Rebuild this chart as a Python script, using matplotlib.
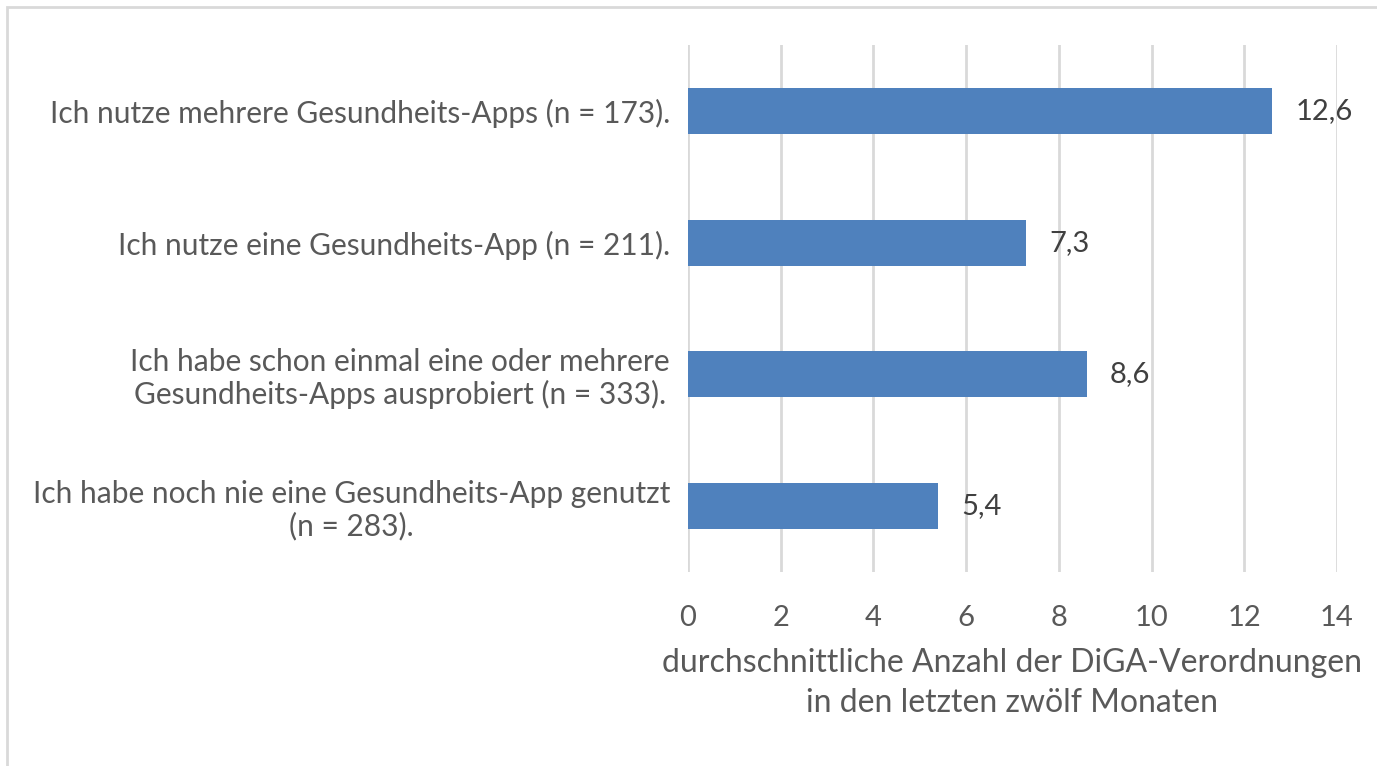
import matplotlib.pyplot as plt
from matplotlib.patches import Rectangle

categories = [
    'Ich nutze mehrere Gesundheits-Apps (n = 173).',
    'Ich nutze eine Gesundheits-App (n = 211).',
    'Ich habe schon einmal eine oder mehrere\nGesundheits-Apps ausprobiert (n = 333).',
    'Ich habe noch nie eine Gesundheits-App genutzt\n(n = 283).',
]
values = [12.6, 7.3, 8.6, 5.4]
value_labels = ['12,6', '7,3', '8,6', '5,4']
x_ticks = [0, 2, 4, 6, 8, 10, 12, 14]

plt.rcParams['font.family'] = ['Lato', 'DejaVu Sans']

fig = plt.figure(figsize=(13.77, 7.66), dpi=100)
ax = fig.add_axes([688 / 1377, 1 - 572 / 766, (1337 - 688) / 1377, (572 - 45) / 766])

y = list(range(len(categories)))
ax.barh(y, values, height=0.35, color='#4F81BD', zorder=3)
ax.set_ylim(len(categories) - 0.5, -0.5)
ax.set_xlim(0, 14)
ax.set_xticks(x_ticks)
ax.set_xticklabels([str(t) for t in x_ticks])
ax.set_yticks(y)
ax.set_yticklabels(categories, ha='right', multialignment='center', linespacing=1.15)
ax.tick_params(axis='y', length=0, labelsize=21.5, colors='#595959', pad=13)
ax.tick_params(axis='x', length=0, labelsize=21, colors='#595959', pad=24)
ax.grid(axis='x', color='#D9D9D9', linewidth=2, zorder=0)
for s in ax.spines.values():
    s.set_visible(False)

for yi, v, lab in zip(y, values, value_labels):
    ax.text(v + 0.5, yi, lab, va='center', ha='left', fontsize=21, color='#404040')

ax.set_xlabel('durchschnittliche Anzahl der DiGA-Verordnungen\nin den letzten zwölf Monaten',
              fontsize=23, color='#595959', labelpad=12, linespacing=1.4)

fig.patches.append(Rectangle((7 / 1377, -0.01), 1.1, 1 - 7 / 766 + 0.01, transform=fig.transFigure,
                             fill=False, edgecolor='#D9D9D9', linewidth=2))

fig.savefig('out.png', dpi=100)
